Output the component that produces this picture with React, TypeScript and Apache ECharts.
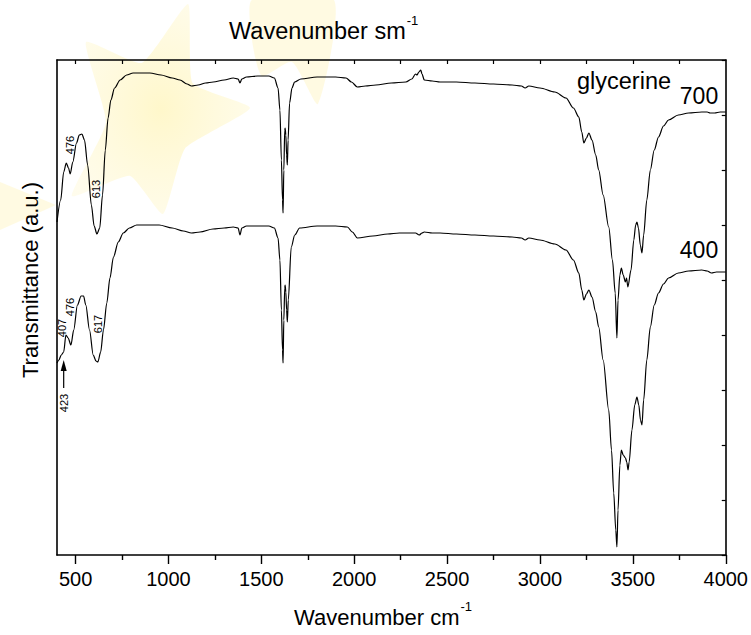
import { useEffect, useRef } from 'react';
import * as echarts from 'echarts';

const FONT = "'Liberation Sans', Arial, Helvetica, sans-serif";

// FTIR spectrum, sample annealed at 700
const wn700 = [400, 420, 436, 450, 462, 471, 485, 505, 520, 534, 548, 565, 585, 600, 615, 630, 645, 660, 675, 690, 710, 740, 775, 810, 847, 900, 960, 1020, 1062, 1100, 1124, 1160, 1200, 1241, 1300, 1349, 1375, 1385, 1395, 1420, 1480, 1540, 1570, 1590, 1600, 1608, 1614, 1617, 1621, 1626, 1628, 1632, 1636, 1640, 1644, 1652, 1665, 1679, 1713, 1800, 1900, 1956, 1985, 2017, 2060, 2117, 2200, 2278, 2310, 2330, 2338, 2348, 2358, 2365, 2377, 2420, 2462, 2550, 2650, 2750, 2850, 2900, 2920, 2940, 3000, 3080, 3140, 3180, 3209, 3225, 3236, 3250, 3263, 3280, 3300, 3316, 3340, 3370, 3390, 3405, 3414, 3420, 3430, 3438, 3448, 3460, 3466, 3473, 3490, 3505, 3515, 3522, 3530, 3540, 3549, 3558, 3575, 3594, 3615, 3638, 3665, 3692, 3745, 3800, 3871, 3900, 3916, 3940, 3970, 4000];
const t700 = [333, 355, 383, 392, 387, 381, 393, 412, 420, 421, 415, 390, 350, 329, 321, 327, 360, 405, 437, 455, 467, 475, 480, 482, 482, 482, 480, 477, 475, 471, 469, 470, 472, 473, 475, 477, 476, 472, 476, 478, 479, 479, 477, 467, 445, 395, 355, 342, 385, 425, 427, 420, 400, 390, 415, 452, 467, 473, 476, 478, 478, 477, 473, 468, 469, 470, 472, 473, 476, 481, 480, 483, 485, 481, 475, 474, 473, 473, 472, 471, 470, 469, 467, 469, 467, 463, 457, 447, 438, 423, 412, 417, 422, 415, 400, 385, 360, 328, 295, 262, 217, 255, 280, 287, 280, 273, 277, 268, 285, 315, 330, 333, 327, 310, 302, 320, 355, 385, 405, 418, 429, 435, 440, 442, 443, 443, 442, 442, 443, 443];

// FTIR spectrum, sample annealed at 400
const wn400 = [400, 410, 423, 436, 448, 460, 475, 490, 510, 530, 543, 555, 575, 595, 610, 620, 635, 650, 668, 685, 704, 730, 757, 790, 829, 880, 950, 1020, 1080, 1124, 1170, 1240, 1300, 1349, 1375, 1385, 1395, 1420, 1480, 1540, 1570, 1590, 1600, 1608, 1614, 1617, 1621, 1626, 1628, 1632, 1636, 1640, 1645, 1661, 1680, 1706, 1800, 1900, 1963, 1990, 2017, 2100, 2180, 2243, 2300, 2330, 2350, 2365, 2377, 2420, 2462, 2550, 2650, 2750, 2850, 2900, 2920, 2940, 3000, 3080, 3140, 3180, 3209, 3225, 3236, 3250, 3263, 3280, 3300, 3316, 3340, 3370, 3385, 3397, 3408, 3414, 3420, 3430, 3438, 3448, 3460, 3467, 3474, 3480, 3495, 3510, 3522, 3532, 3541, 3549, 3558, 3575, 3594, 3615, 3638, 3665, 3692, 3745, 3800, 3871, 3900, 3923, 3950, 4000];
const t400 = [192, 195, 200, 203, 220, 217, 210, 225, 250, 259, 259, 250, 225, 200, 194, 193, 203, 225, 252, 277, 298, 313, 322, 327, 330, 330, 330, 327, 324, 322, 323, 326, 327, 328, 327, 320, 327, 329, 329, 329, 327, 317, 295, 245, 205, 192, 235, 267, 270, 263, 245, 233, 255, 308, 320, 327, 329, 329, 328, 323, 317, 319, 321, 322, 322, 322, 320, 322, 323, 322, 322, 321, 320, 319, 318, 317, 315, 317, 315, 311, 305, 295, 282, 265, 255, 261, 265, 258, 243, 228, 195, 145, 105, 62, 25, 8, 45, 90, 105, 100, 97, 93, 85, 93, 125, 150, 158, 150, 135, 130, 155, 195, 228, 250, 262, 271, 277, 282, 284, 285, 284, 282, 283, 283];

// Axis ticks
const majorTicks = [500, 1000, 1500, 2000, 2500, 3000, 3500, 4000];
const minorTicks = [750, 1250, 1750, 2250, 2750, 3250, 3750];
const topTicks = [500, 750, 1000, 1250, 1500, 1750, 2000, 2250, 2500, 2750, 3000, 3250, 3500, 3750];

// Band positions written next to the curves: [text, wavenumber, transmittance]
const bandLabels: [string, number, number][] = [
  ['476', 471, 410],
  ['613', 611, 366],
  ['476', 469, 248],
  ['617', 619, 231],
  ['407', 426, 227],
  ['423', 439, 152],
];
// Arrow marking the 423 band: [wavenumber, tail, head]
const arrow423: [number, number, number] = [436, 167, 195];

const X_MIN = 400;
const X_MAX = 4000;
const Y_MAX = 495;

function textWidth(text: string, size: number): number {
  const c = document.createElement('canvas').getContext('2d');
  if (!c) return text.length * size * 0.55;
  c.font = `${size}px ${FONT}`;
  return c.measureText(text).width;
}

function starPoints(cx: number, cy: number, outer: [number, number][], innerScale: number): number[][] {
  // outer tips in order; inner vertices placed between neighbouring tips
  const pts: number[][] = [];
  for (let i = 0; i < outer.length; i++) {
    const a = outer[i];
    const b = outer[(i + 1) % outer.length];
    pts.push([a[0], a[1]]);
    const mx = (a[0] + b[0]) / 2;
    const my = (a[1] + b[1]) / 2;
    pts.push([cx + (mx - cx) * innerScale, cy + (my - cy) * innerScale]);
  }
  return pts;
}

export default function App() {
  const ref = useRef<HTMLDivElement>(null);

  useEffect(() => {
    if (!ref.current) return;
    const chart = echarts.init(ref.current, null, { renderer: 'svg' });

    const axisLine = { show: true, lineStyle: { color: '#000', width: 1.6 } };
    const data700 = wn700.map((w, i) => [w, t700[i]]);
    const data400 = wn400.map((w, i) => [w, t400[i]]);

    chart.setOption({
      animation: false,
      backgroundColor: '#fff',
      grid: { left: 57, right: 24, top: 60, bottom: 80, containLabel: false },
      xAxis: [
        {
          type: 'value', position: 'bottom', min: X_MIN, max: X_MAX,
          axisLine,
          axisTick: { show: true, length: 9, inside: false, customValues: majorTicks, lineStyle: { color: '#000', width: 1.4 } },
          axisLabel: {
            show: true, customValues: majorTicks, color: '#000', fontSize: 20, fontFamily: FONT, margin: 14,
            formatter: (v: number) => String(v),
          },
          splitLine: { show: false },
        },
        {
          type: 'value', position: 'bottom', min: X_MIN, max: X_MAX,
          axisLine: { show: false },
          axisTick: { show: true, length: 5, inside: false, customValues: minorTicks, lineStyle: { color: '#000', width: 1.4 } },
          axisLabel: { show: false },
          splitLine: { show: false },
        },
        {
          type: 'value', position: 'top', min: X_MIN, max: X_MAX,
          axisLine,
          axisTick: { show: true, length: 4, inside: true, customValues: topTicks, lineStyle: { color: '#000', width: 1.2 } },
          axisLabel: { show: false },
          splitLine: { show: false },
        },
      ],
      yAxis: [
        {
          type: 'value', position: 'left', min: 0, max: Y_MAX,
          axisLine,
          axisTick: { show: false },
          axisLabel: { show: false },
          splitLine: { show: false },
        },
        {
          type: 'value', position: 'right', min: 0, max: Y_MAX, interval: 55,
          axisLine,
          axisTick: { show: true, length: 4, inside: true, lineStyle: { color: '#000', width: 1.2 } },
          axisLabel: { show: false },
          splitLine: { show: false },
        },
      ],
      series: [
        {
          name: '700', type: 'line', data: data700, xAxisIndex: 0, yAxisIndex: 0,
          showSymbol: false, smooth: 0.3, smoothMonotone: 'x', z: 3,
          lineStyle: { color: '#000', width: 1.2 },
        },
        {
          name: '400', type: 'line', data: data400, xAxisIndex: 0, yAxisIndex: 0,
          showSymbol: false, smooth: 0.3, smoothMonotone: 'x', z: 3,
          lineStyle: { color: '#000', width: 1.2 },
        },
      ],
    });

    const toPx = (w: number, t: number) =>
      chart.convertToPixel({ xAxisIndex: 0, yAxisIndex: 0 }, [w, t]) as number[];

    const supSize = 13;
    const topTitle = 'Wavenumber sm';
    const bottomTitle = 'Wavenumber cm';
    const topSize = 23.5;
    const botSize = 22;
    const topW = textWidth(topTitle, topSize);
    const botW = textWidth(bottomTitle, botSize);
    const topX = 229;
    const botX = 294;

    const graphic: any[] = [];

    // pale star emblem behind the plot
    const starFill = new echarts.graphic.RadialGradient(0.5, 0.5, 0.6, [
      { offset: 0, color: 'rgba(255, 236, 130, 0.42)' },
      { offset: 1, color: 'rgba(255, 242, 170, 0.22)' },
    ]);
    const edgeFill = 'rgba(255, 240, 160, 0.3)';
    graphic.push({
      type: 'polygon', z: -10, silent: true,
      shape: { points: starPoints(150, 128, [[188, 4], [250, 108], [163, 214], [72, 196], [86, 42]], 0.62), smooth: 0.15 },
      style: { fill: starFill },
    });
    graphic.push({
      type: 'polygon', z: -10, silent: true,
      shape: { points: [[252, 0], [334, 0], [318, 104], [292, 62], [262, 76], [252, 40]], smooth: 0.2 },
      style: { fill: edgeFill },
    });
    graphic.push({
      type: 'polygon', z: -10, silent: true,
      shape: { points: [[0, 182], [56, 205], [0, 230]] },
      style: { fill: edgeFill },
    });

    // axis titles
    graphic.push({
      type: 'text', x: topX, y: 31, z: 10,
      style: { text: topTitle, fontSize: topSize, fontFamily: FONT, fill: '#000', verticalAlign: 'middle', align: 'left' },
    });
    graphic.push({
      type: 'text', x: topX + topW + 1, y: 20, z: 10,
      style: { text: '-1', fontSize: supSize, fontFamily: FONT, fill: '#000', verticalAlign: 'middle', align: 'left' },
    });
    graphic.push({
      type: 'text', x: botX, y: 617, z: 10,
      style: { text: bottomTitle, fontSize: botSize, fontFamily: FONT, fill: '#000', verticalAlign: 'middle', align: 'left' },
    });
    graphic.push({
      type: 'text', x: botX + botW + 1, y: 606, z: 10,
      style: { text: '-1', fontSize: supSize, fontFamily: FONT, fill: '#000', verticalAlign: 'middle', align: 'left' },
    });
    graphic.push({
      type: 'text', x: 30, y: 280, rotation: Math.PI / 2, z: 10,
      style: { text: 'Transmittance (a.u.)', fontSize: 22, fontFamily: FONT, fill: '#000', verticalAlign: 'middle', align: 'center' },
    });

    // curve names
    graphic.push({
      type: 'text', x: 577, y: 81, z: 10,
      style: { text: 'glycerine', fontSize: 23.5, fontFamily: FONT, fill: '#000', verticalAlign: 'middle', align: 'left' },
    });
    graphic.push({
      type: 'text', x: 699, y: 96, z: 10,
      style: { text: '700', fontSize: 23, fontFamily: FONT, fill: '#000', verticalAlign: 'middle', align: 'center' },
    });
    graphic.push({
      type: 'text', x: 699, y: 250, z: 10,
      style: { text: '400', fontSize: 23, fontFamily: FONT, fill: '#000', verticalAlign: 'middle', align: 'center' },
    });

    // band positions
    bandLabels.forEach(([txt, w, t]) => {
      const [px, py] = toPx(w, t);
      graphic.push({
        type: 'text', x: px, y: py, rotation: Math.PI / 2, z: 10,
        style: { text: txt, fontSize: 11, fontFamily: FONT, fill: '#000', verticalAlign: 'middle', align: 'center' },
      });
    });

    // arrow to the 423 band
    const [ax, ayTail] = toPx(arrow423[0], arrow423[1]);
    const [, ayHead] = toPx(arrow423[0], arrow423[2]);
    graphic.push({
      type: 'line', z: 10,
      shape: { x1: ax, y1: ayTail, x2: ax, y2: ayHead + 8 },
      style: { stroke: '#000', lineWidth: 1.2 },
    });
    graphic.push({
      type: 'polygon', z: 10,
      shape: { points: [[ax, ayHead], [ax - 3, ayHead + 11], [ax + 3, ayHead + 11]] },
      style: { fill: '#000' },
    });

    chart.setOption({ graphic });

    return () => chart.dispose();
  }, []);

  return (
    <div
      ref={ref}
      style={{ position: 'absolute', left: 0, top: 0, width: 751, height: 635 }}
    />
  );
}
